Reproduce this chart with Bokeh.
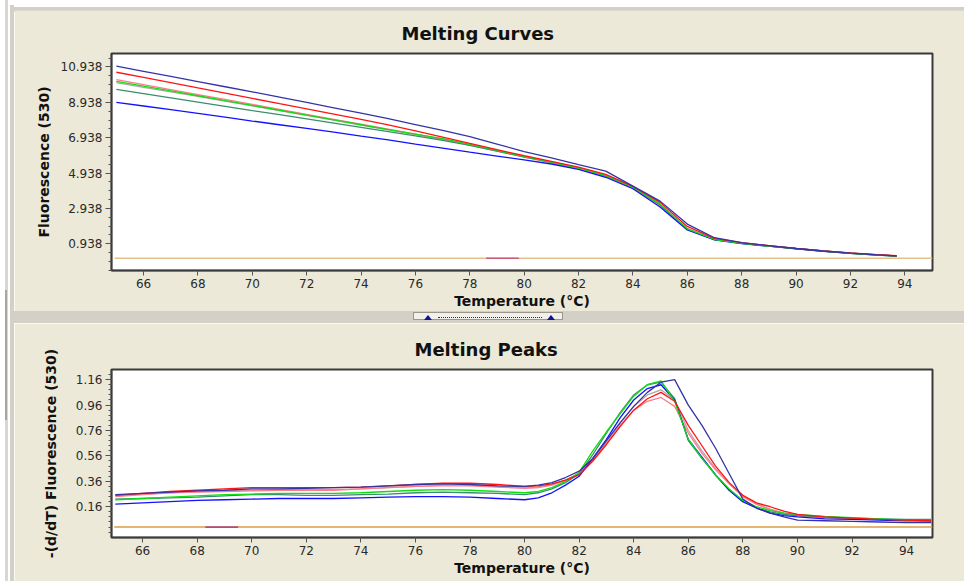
import numpy as np
from bokeh.plotting import figure
from bokeh.layouts import column, row
from bokeh.models import Div, FixedTicker, Range1d
from bokeh.embed import file_html
from bokeh.resources import INLINE

# ---------------- data ----------------
curve_temps = [65, 66, 67, 68, 69, 70, 71, 72, 73, 74, 75, 76, 77, 78, 79, 80,
               81, 82, 83, 84, 85, 86, 87, 88, 89, 90, 91, 92, 93, 93.7]

curve_navy = [10.98, 10.69, 10.40, 10.11, 9.82, 9.53, 9.23, 8.93, 8.63, 8.33, 8.01, 7.68, 7.35, 7.00, 6.58,
              6.15, 5.80, 5.42, 5.05, 4.20, 3.35, 2.05, 1.28, 1.00, 0.83, 0.67, 0.53, 0.41, 0.31, 0.25]
curve_red = [10.64, 10.35, 10.05, 9.75, 9.46, 9.16, 8.86, 8.57, 8.27, 7.97, 7.66, 7.32, 6.97, 6.61, 6.26,
             5.92, 5.60, 5.27, 4.86, 4.18, 3.28, 1.92, 1.24, 1.00, 0.83, 0.68, 0.54, 0.42, 0.32, 0.26]
curve_pink = [10.22, 9.94, 9.66, 9.38, 9.10, 8.82, 8.54, 8.26, 7.98, 7.70, 7.42, 7.14, 6.85, 6.52, 6.18,
              5.84, 5.52, 5.18, 4.74, 4.08, 3.10, 1.80, 1.20, 0.98, 0.82, 0.67, 0.53, 0.41, 0.31, 0.25]
curve_green = [10.12, 9.85, 9.58, 9.31, 9.04, 8.76, 8.49, 8.22, 7.95, 7.67, 7.40, 7.14, 6.88, 6.56, 6.22,
               5.88, 5.56, 5.22, 4.80, 4.14, 3.18, 1.78, 1.18, 0.96, 0.80, 0.66, 0.52, 0.40, 0.30, 0.24]
curve_grey = [10.05, 9.79, 9.53, 9.27, 9.01, 8.74, 8.47, 8.20, 7.93, 7.65, 7.38, 7.11, 6.84, 6.53, 6.20,
              5.86, 5.54, 5.20, 4.77, 4.10, 3.14, 1.80, 1.19, 0.97, 0.81, 0.66, 0.52, 0.40, 0.30, 0.24]
curve_teal = [9.67, 9.43, 9.19, 8.95, 8.71, 8.47, 8.24, 8.00, 7.76, 7.52, 7.28, 7.04, 6.78, 6.50, 6.18,
              5.86, 5.55, 5.21, 4.78, 4.12, 3.15, 1.76, 1.17, 0.96, 0.81, 0.67, 0.53, 0.41, 0.31, 0.25]
curve_blue = [8.94, 8.73, 8.52, 8.31, 8.10, 7.88, 7.67, 7.46, 7.25, 7.03, 6.82, 6.58, 6.35, 6.12, 5.90,
              5.68, 5.45, 5.15, 4.70, 4.05, 3.02, 1.72, 1.16, 0.95, 0.80, 0.65, 0.51, 0.39, 0.30, 0.24]

peak_temps = [65, 66, 67, 68, 69, 70, 71, 72, 73, 74, 75, 76, 77, 78, 79, 80,
              80.5, 81, 81.5, 82, 82.5, 83, 83.5, 84, 84.5, 85, 85.5, 86, 86.5, 87, 87.5, 88, 88.5, 89, 89.5,
              90, 91, 92, 93, 94, 94.9]

peak_navy = [0.255, 0.265, 0.275, 0.285, 0.29, 0.30, 0.30, 0.305, 0.31, 0.315, 0.325, 0.335, 0.34, 0.335, 0.325, 0.32,
             0.33, 0.35, 0.39, 0.44, 0.54, 0.68, 0.82, 0.95, 1.06, 1.14, 1.16, 0.96, 0.80, 0.62, 0.42, 0.22, 0.15, 0.11, 0.08,
             0.055, 0.05, 0.045, 0.04, 0.035, 0.035]
peak_red = [0.25, 0.265, 0.28, 0.29, 0.30, 0.31, 0.31, 0.31, 0.31, 0.315, 0.325, 0.335, 0.345, 0.345, 0.335, 0.32,
            0.325, 0.34, 0.37, 0.41, 0.52, 0.65, 0.79, 0.92, 1.01, 1.06, 0.99, 0.80, 0.64, 0.48, 0.35, 0.25, 0.19, 0.16, 0.125,
            0.10, 0.08, 0.07, 0.06, 0.055, 0.05]
peak_pink = [0.24, 0.255, 0.27, 0.275, 0.28, 0.285, 0.29, 0.29, 0.29, 0.30, 0.31, 0.32, 0.325, 0.325, 0.315, 0.305,
             0.31, 0.33, 0.37, 0.42, 0.52, 0.66, 0.80, 0.92, 0.99, 1.02, 0.95, 0.74, 0.58, 0.45, 0.34, 0.24, 0.18, 0.14, 0.11,
             0.09, 0.075, 0.065, 0.06, 0.055, 0.05]
peak_green = [0.215, 0.225, 0.235, 0.245, 0.255, 0.26, 0.265, 0.265, 0.265, 0.27, 0.28, 0.29, 0.295, 0.29, 0.28, 0.27,
              0.28, 0.31, 0.36, 0.43, 0.60, 0.75, 0.89, 1.03, 1.12, 1.15, 0.99, 0.69, 0.54, 0.41, 0.30, 0.21, 0.16, 0.13, 0.11,
              0.10, 0.085, 0.075, 0.065, 0.055, 0.05]
peak_grey = [0.245, 0.26, 0.27, 0.28, 0.285, 0.29, 0.295, 0.295, 0.295, 0.30, 0.31, 0.32, 0.33, 0.33, 0.32, 0.31,
             0.315, 0.335, 0.37, 0.42, 0.53, 0.67, 0.82, 0.95, 1.04, 1.08, 1.00, 0.76, 0.60, 0.46, 0.34, 0.24, 0.18, 0.14, 0.11,
             0.09, 0.075, 0.065, 0.06, 0.055, 0.05]
peak_teal = [0.22, 0.225, 0.23, 0.235, 0.245, 0.255, 0.255, 0.25, 0.25, 0.255, 0.26, 0.27, 0.275, 0.27, 0.265, 0.255,
             0.27, 0.30, 0.35, 0.42, 0.57, 0.74, 0.90, 1.04, 1.12, 1.14, 1.01, 0.68, 0.54, 0.41, 0.29, 0.20, 0.15, 0.12, 0.10,
             0.09, 0.08, 0.07, 0.065, 0.06, 0.06]
peak_blue = [0.18, 0.19, 0.20, 0.21, 0.215, 0.22, 0.225, 0.225, 0.225, 0.23, 0.235, 0.24, 0.24, 0.235, 0.225, 0.215,
             0.23, 0.27, 0.33, 0.40, 0.54, 0.69, 0.86, 1.00, 1.09, 1.12, 1.00, 0.69, 0.55, 0.41, 0.29, 0.20, 0.15, 0.11, 0.09,
             0.08, 0.065, 0.06, 0.055, 0.05, 0.05]

# negative-control (flat) traces
curve_ctrl_temps = [64.93, 95.02]
curve_ctrl_vals = [0.12, 0.12]
curve_ctrl2_temps = [78.6, 79.8]
curve_ctrl2_vals = [0.12, 0.12]
peak_ctrl_temps = [64.96, 94.95]
peak_ctrl_vals = [0.0, 0.0]
peak_ctrl2_temps = [68.3, 69.5]
peak_ctrl2_vals = [0.0, 0.0]

x_ticks = [66, 68, 70, 72, 74, 76, 78, 80, 82, 84, 86, 88, 90, 92, 94]
curve_y_ticks = [0.938, 2.938, 4.938, 6.938, 8.938, 10.938]
curve_y_labels = ["0.938", "2.938", "4.938", "6.938", "8.938", "10.938"]
peak_y_ticks = [0.16, 0.36, 0.56, 0.76, 0.96, 1.16]
peak_y_labels = ["0.16", "0.36", "0.56", "0.76", "0.96", "1.16"]

series_order = ["grey", "pink", "teal", "blue", "green", "red", "navy"]
curves = {"navy": curve_navy, "red": curve_red, "pink": curve_pink, "green": curve_green,
          "grey": curve_grey, "teal": curve_teal, "blue": curve_blue}
peaks = {"navy": peak_navy, "red": peak_red, "pink": peak_pink, "green": peak_green,
         "grey": peak_grey, "teal": peak_teal, "blue": peak_blue}

# ---------------- styles ----------------
COLORS = {"navy": "#3434A6", "red": "#FF1414", "pink": "#FF7C8C", "green": "#12DC12",
          "grey": "#B4A4A4", "teal": "#3A8E6E", "blue": "#1212FF"}
BEIGE = "#ECE9D8"
FONT = "DejaVu Sans"
TXT = "#2A2A2A"


def style(p, title, ylabel, y_ticks, y_labels, y_minor, title_offset, ylabel_standoff):
    p.title.text = title
    p.title.text_font = FONT
    p.title.text_font_size = "18px"
    p.title.text_font_style = "bold"
    p.title.text_color = "#111111"
    p.title.align = "left"
    p.title.offset = title_offset
    p.title.standoff = 19
    p.background_fill_color = "white"
    p.border_fill_color = BEIGE
    p.outline_line_color = "#3A3A3A"
    p.outline_line_width = 2
    p.grid.visible = False

    xa = p.xaxis[0]
    xa.ticker = FixedTicker(ticks=x_ticks)
    xa.axis_label = "Temperature (°C)"
    ya = p.yaxis[0]
    ya.ticker = FixedTicker(ticks=y_ticks, minor_ticks=y_minor)
    ya.major_label_overrides = {t: s for t, s in zip(y_ticks, y_labels)}
    ya.axis_label = ylabel
    ya.axis_label_standoff = ylabel_standoff
    xa.axis_label_standoff = 2
    for ax in (xa, ya):
        ax.axis_line_color = "#3A3A3A"
        ax.axis_line_width = 1.5
        ax.major_tick_line_color = "#555555"
        ax.minor_tick_line_color = "#555555"
        ax.major_tick_in = 0
        ax.minor_tick_in = 0
        ax.major_label_text_font = FONT
        ax.major_label_text_font_size = "12px"
        ax.major_label_text_color = TXT
        ax.axis_label_text_font = FONT
        ax.axis_label_text_font_size = "14px"
        ax.axis_label_text_font_style = "bold"
        ax.axis_label_text_color = "#111111"
        ax.major_label_standoff = 3
    xa.major_tick_out = 5
    xa.minor_tick_line_color = None
    ya.major_tick_out = 6
    ya.minor_tick_out = 3


LEFT = 14
W = 964 - LEFT

left_strip = Div(
    text=(
        '<div style="position:relative;width:14px;height:581px;background:#FFFFFF;">'
        '<div style="position:absolute;left:5px;top:0;width:3px;height:581px;background:#DAD7D0;"></div>'
        '<div style="position:absolute;left:5px;top:290px;width:2px;height:130px;background:#A9A69E;"></div>'
        '<div style="position:absolute;left:10px;top:5px;width:4px;height:576px;background:#D4D0C8;"></div>'
        '</div>'
    ),
    width=LEFT, height=581, margin=0,
)

top_strip = Div(
    text=(
        '<div style="width:950px;height:10px;background:#FFFFFF;">'
        '<div style="position:relative;top:5px;width:950px;height:5px;background:#D4D0C8;"></div>'
        '</div>'
    ),
    width=W, height=10, margin=0,
)

p1 = figure(width=W, height=301, x_range=Range1d(64.82, 95.02), y_range=Range1d(-0.574, 11.70),
            output_backend="svg", toolbar_location=None,
            min_border_left=111 - LEFT, min_border_right=32, min_border_top=43, min_border_bottom=41)
style(p1, "Melting Curves", "Fluorescence (530)", curve_y_ticks, curve_y_labels,
      list(np.arange(-0.562, 11.6, 0.5)), 290, 6)
p1.line(curve_ctrl_temps, curve_ctrl_vals, color="#E6C08A", line_width=1.3)
p1.line(curve_ctrl2_temps, curve_ctrl2_vals, color="#C85A78", line_width=1.5)
for k in series_order:
    p1.line(curve_temps, curves[k], color=COLORS[k], line_width=1.3)

splitter = Div(
    text=(
        '<div style="position:relative;width:950px;height:12px;background:#D4D0C8;">'
        '<div style="position:absolute;left:399px;top:1px;width:150px;height:8px;'
        'border:1px solid #9A968C;background:#F2F0EA;">'
        '<div style="position:absolute;left:10px;top:2px;width:0;height:0;'
        'border-left:4px solid transparent;border-right:4px solid transparent;'
        'border-bottom:5px solid #14148C;"></div>'
        '<div style="position:absolute;left:24px;top:4px;width:104px;height:0;'
        'border-top:1px dotted #2020A0;"></div>'
        '<div style="position:absolute;left:133px;top:2px;width:0;height:0;'
        'border-left:4px solid transparent;border-right:4px solid transparent;'
        'border-bottom:5px solid #14148C;"></div>'
        '</div></div>'
    ),
    width=W, height=12, margin=0,
)

p2 = figure(width=W, height=258, x_range=Range1d(64.86, 94.95), y_range=Range1d(-0.082, 1.24),
            output_backend="svg", toolbar_location=None,
            min_border_left=103 - LEFT, min_border_right=32, min_border_top=46, min_border_bottom=44)
style(p2, "Melting Peaks", "-(d/dT) Fluorescence (530)", peak_y_ticks, peak_y_labels,
      list(np.arange(-0.04, 1.23, 0.04)), 303, 14)
p2.line(peak_ctrl_temps, peak_ctrl_vals, color="#D89E42", line_width=1.5)
p2.line(peak_ctrl2_temps, peak_ctrl2_vals, color="#B04C8C", line_width=1.6)
for k in series_order:
    p2.line(peak_temps, peaks[k], color=COLORS[k], line_width=1.3)

layout = row(left_strip, column(top_strip, p1, splitter, p2, spacing=0), spacing=0)
open("out.html", "w").write(file_html(layout, INLINE))
